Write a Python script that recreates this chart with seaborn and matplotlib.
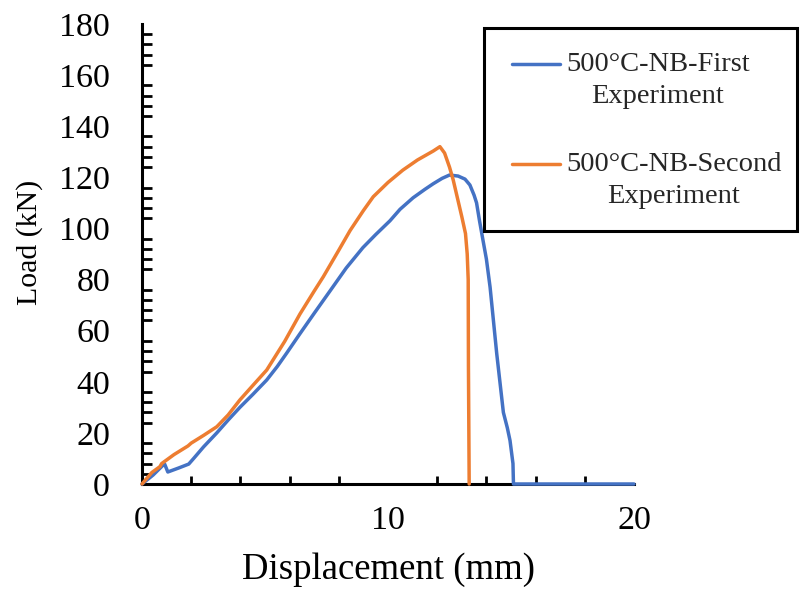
import matplotlib
matplotlib.use("Agg")
import matplotlib.pyplot as plt
import seaborn as sns
import pandas as pd
from matplotlib.ticker import MultipleLocator
from matplotlib.patches import Rectangle

# ---- data ----
first_x = [0, 0.45, 0.86, 0.92, 1.05, 1.5, 1.9, 2.1, 2.5, 3.04, 3.5, 3.98, 4.5, 5.07,
           5.5, 5.88, 6.42, 7.0, 7.64, 8.3, 8.98, 9.5, 10.08, 10.49, 11.02, 11.5, 11.84,
           12.2, 12.5, 12.85, 13.13, 13.33, 13.5, 13.6, 13.72, 13.85, 14.0, 14.15, 14.42,
           14.69, 14.85, 14.96, 15.08, 15.1, 20]
first_y = [0, 3.5, 7.4, 7.8, 4.7, 6.3, 7.8, 10, 14.5, 20, 25, 30, 35, 40.7,
           46, 51.2, 58.8, 66.8, 75.5, 84.5, 92.5, 97.6, 103, 107.5, 112, 115.3, 117.5,
           119.6, 120.9, 120.5, 119.3, 117, 113, 110, 103, 96, 88, 77, 51,
           28, 22, 17, 8, 0, 0]

second_x = [0, 0.4, 0.73, 0.8, 1.3, 1.87, 2.0, 2.5, 3.04, 3.5, 3.98, 4.5, 5.07, 5.8,
            6.42, 7.0, 7.37, 8.0, 8.46, 9.0, 9.4, 10.0, 10.6, 11.2, 11.84, 12.11,
            12.3, 12.5, 12.65, 13.0, 13.15, 13.22, 13.26, 13.27, 13.3]
second_y = [0, 4.5, 6.8, 8.0, 11.5, 14.9, 16, 19, 22.4, 27, 32.9, 38.5, 44.6, 55.8,
            66.5, 75.5, 81.1, 91.5, 99.2, 107, 112.4, 118, 122.8, 126.8, 130.3, 132,
            129.5, 124, 119, 104.6, 98, 90, 80, 46, 0]

labels = ["500°C-NB-First\nExperiment", "500°C-NB-Second\nExperiment"]
colors = ["#4472C4", "#ED7D31"]
x_label = "Displacement (mm)"
y_label = "Load (kN)"

df = pd.concat([
    pd.DataFrame({"x": first_x, "y": first_y, "series": labels[0]}),
    pd.DataFrame({"x": second_x, "y": second_y, "series": labels[1]}),
], ignore_index=True)

sns.set_theme(style="white")
plt.rcParams["font.family"] = ["Liberation Serif", "DejaVu Serif"]

fig = plt.figure(figsize=(8.01, 5.97), dpi=100)
ax = fig.add_axes([142 / 801, 1 - 484 / 597, (634 - 142) / 801, (484 - 24) / 597])

sns.lineplot(data=df, x="x", y="y", hue="series", palette=colors, sort=False,
             estimator=None, linewidth=2.5, ax=ax, legend=True)
for ln in ax.get_lines():
    ln.set_clip_on(False)
    ln.set_zorder(5)
    ln.set_solid_joinstyle("round")

ax.set_xlim(0, 20)
ax.set_ylim(0, 180)
ax.xaxis.set_major_locator(MultipleLocator(10))
ax.xaxis.set_minor_locator(MultipleLocator(2))
ax.yaxis.set_major_locator(MultipleLocator(20))
ax.yaxis.set_minor_locator(MultipleLocator(4))

for side in ["top", "right"]:
    ax.spines[side].set_visible(False)
for side in ["left", "bottom"]:
    ax.spines[side].set_color("black")
    ax.spines[side].set_linewidth(2.2)

ax.tick_params(axis="both", which="major", direction="inout", length=15, width=2.0,
               color="black", labelsize=24.5, labelcolor="black")
ax.tick_params(axis="y", which="major", pad=15.5)
ax.tick_params(axis="x", which="major", pad=8)
ax.tick_params(axis="y", which="minor", direction="in", length=7, width=2.0, color="black", left=True)
ax.tick_params(axis="x", which="minor", direction="in", length=5.5, width=2.0, color="black", bottom=True)

ax.set_xlabel(x_label, fontsize=26.5, color="black", labelpad=12)
ax.set_ylabel(y_label, fontsize=21.5, color="black")
ax.yaxis.set_label_coords((43 - 142) / 492, (484 - 242) / 460)

# legend
handles, lbls = ax.get_legend_handles_labels()
if ax.get_legend():
    ax.get_legend().remove()
fs = 20.5
leg = fig.legend(handles, lbls, loc="upper left",
                 bbox_to_anchor=(512 / 801, 1 - 52 / 597), bbox_transform=fig.transFigure,
                 frameon=False, fontsize=fs, borderpad=0, borderaxespad=0,
                 handlelength=1.7, handletextpad=0.2, labelspacing=1.5)
for t in leg.get_texts():
    t.set_multialignment("center")
    t.set_linespacing(1.38)
for lh in leg.get_lines():
    lh.set_linewidth(2.5)
    yd = lh.get_ydata()
    lh.set_ydata([v + 0.58 * fs for v in yd])

fig.patches.append(Rectangle((484 / 801, 1 - 231 / 597), (797 - 484) / 801, (231 - 28) / 597,
                             transform=fig.transFigure, fill=False, edgecolor="black",
                             linewidth=2.2, zorder=10))

fig.savefig("out.png", dpi=100, facecolor="white")
